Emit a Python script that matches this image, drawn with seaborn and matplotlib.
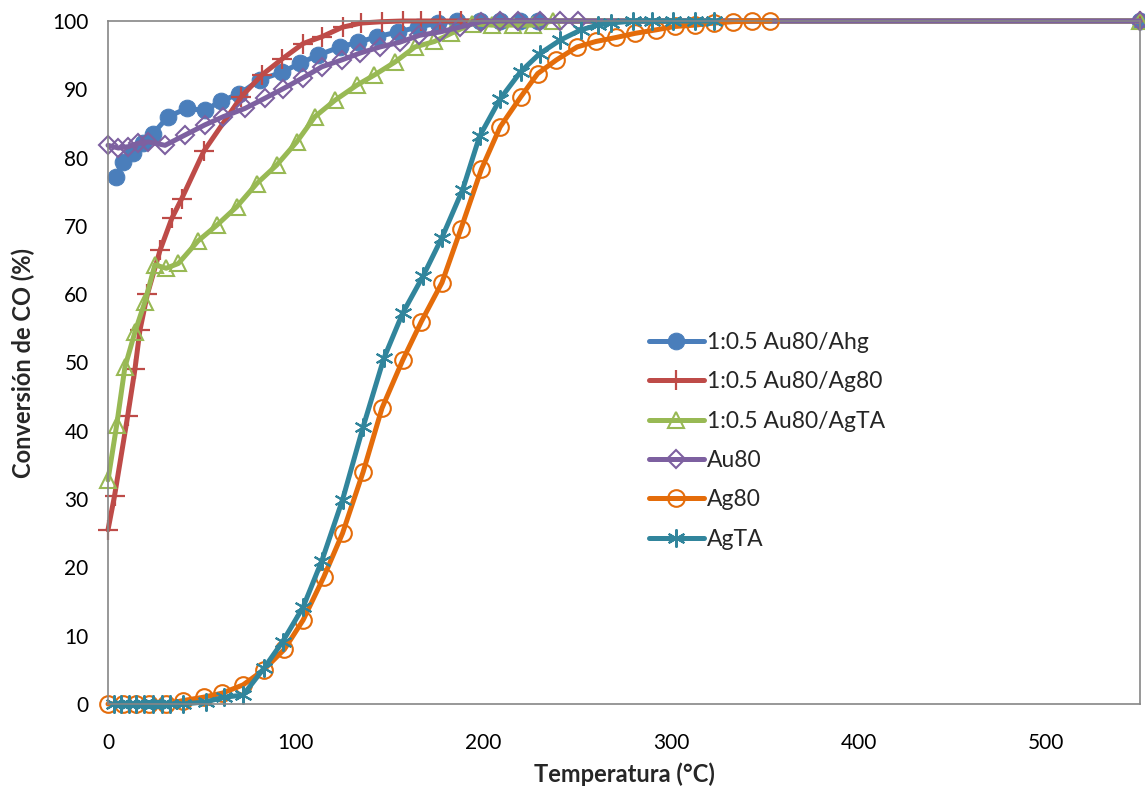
import matplotlib
matplotlib.use("Agg")
import matplotlib.pyplot as plt
import seaborn as sns
import pandas as pd

# ---- data ----
labels = ["1:0.5 Au80/Ahg", "1:0.5 Au80/Ag80", "1:0.5 Au80/AgTA", "Au80", "Ag80", "AgTA"]

ahg_x = [4.3, 8, 13.3, 18.7, 24, 32, 42, 51.7, 60.2, 69.8, 81, 92.7, 102.3, 111.9, 123.7, 133.3,
         143.4, 154.6, 165.2, 175.9, 186, 198.3, 209, 219.6, 229.2, 550]
ahg_y = [77.2, 79.3, 80.7, 82.1, 83.5, 86.0, 87.2, 86.9, 88.3, 89.3, 91.4, 92.5, 93.8, 95.0, 96.2, 96.9,
         97.7, 98.4, 99.1, 99.7, 100, 100, 100, 100, 100, 100]

auag80_x = [0, 3.5, 10.5, 14.4, 17, 21, 27.7, 34, 39.3, 51, 71, 82, 92.6, 104, 114, 125, 135, 146,
            157, 167, 177, 188, 550]
auag80_y = [25.5, 30.5, 42.2, 49.1, 54.7, 60, 66.4, 71.1, 74, 80.9, 88.9, 92.1, 94.4, 96.7, 97.7, 99.1,
            99.7, 99.9, 100, 100, 100, 100, 100]

auagta_x = [0, 4.6, 9, 14.4, 19.7, 25, 31, 37.5, 48, 58, 68.6, 79.3, 89.9, 100.6, 110.3, 121, 132.6,
            142, 153, 163.6, 174, 183, 194, 204.5, 216, 226.7, 237, 550]
auagta_y = [32.8, 40.8, 49.3, 54.5, 58.9, 64.3, 63.8, 64.5, 67.8, 70.1, 72.8, 76.2, 78.9, 82.3, 86, 88.4,
            90.6, 92.1, 94, 96.2, 97, 98.2, 99.6, 99.4, 99.4, 99.4, 100, 100]

au80_x = [0, 5.5, 10.8, 16.2, 21.5, 30.4, 41, 51.7, 61.5, 73, 83.7, 93.4, 104, 114, 124.6, 134.3, 145,
          155.6, 166, 177, 187.6, 199, 209, 218.5, 230, 241, 250.5, 550]
au80_y = [81.8, 81.4, 81.6, 82.1, 82.3, 81.8, 83.3, 84.8, 86, 87.2, 88.7, 90.1, 91.7, 93.3, 94.3, 95.3,
          96.2, 96.9, 97.9, 98.4, 99.1, 99.9, 100, 100, 100, 100, 100, 100]

ag80_x = [0, 8, 15, 22, 31, 40, 51, 61, 72, 83, 94, 104, 115, 125, 136, 146, 157, 167, 178, 188, 199,
          209, 220, 229, 239, 250, 260, 271, 281, 292, 302, 313, 323, 333, 343, 353]
ag80_y = [0, 0, 0, 0, 0, 0.5, 1, 1.6, 2.8, 5, 8, 12.3, 18.6, 25, 34, 43.3, 50.3, 56, 61.7, 69.5, 78.3,
          84.5, 88.9, 92.3, 94.3, 96.2, 97, 97.6, 98.2, 98.7, 99.2, 99.4, 99.7, 99.9, 100, 100]

agta_x = [3, 7, 11, 15, 19, 24, 29, 33, 40, 52, 62, 72, 83, 93, 104, 114, 125, 136, 147, 157, 168,
          178, 189, 198, 209, 220, 230, 241, 252, 261, 268, 280, 290, 301, 313, 323]
agta_y = [0, 0, 0, 0, 0, 0, 0, 0, 0, 0.3, 1, 1.3, 5.2, 9.1, 14.2, 21, 29.9, 40.6, 50.6, 57.2, 62.7,
          68.3, 75.3, 83.1, 88.6, 92.6, 95.2, 97.2, 98.7, 99.4, 99.7, 100, 100, 100, 100, 100]

x_ticks = [0, 100, 200, 300, 400, 500]
y_ticks = [0, 10, 20, 30, 40, 50, 60, 70, 80, 90, 100]

# ---- style ----
sns.set_theme(style="white")
plt.rcParams['font.family'] = ['Lato', 'DejaVu Sans']

C_BLUE, C_RED, C_GREEN, C_PURPLE, C_ORANGE, C_TEAL = "#4A7EBB", "#BE4B48", "#98B954", "#7D60A0", "#E46C0A", "#31859C"

series = [
    (ahg_x, ahg_y, C_BLUE, dict(marker="o", markersize=12, markerfacecolor=C_BLUE, markeredgecolor=C_BLUE)),
    (auag80_x, auag80_y, C_RED, dict(marker="+", markersize=15, markeredgewidth=1.6, markeredgecolor=C_RED)),
    (auagta_x, auagta_y, C_GREEN, dict(marker="^", markersize=12, markerfacecolor="none", markeredgewidth=1.5, markeredgecolor=C_GREEN)),
    (au80_x, au80_y, C_PURPLE, dict(marker="D", markersize=9.5, markerfacecolor="none", markeredgewidth=1.5, markeredgecolor=C_PURPLE)),
    (ag80_x, ag80_y, C_ORANGE, dict(marker="o", markersize=12, markerfacecolor="none", markeredgewidth=1.5, markeredgecolor=C_ORANGE)),
    (agta_x, agta_y, C_TEAL, dict(marker=(6, 2, 0), markersize=13, markeredgewidth=1.5, markeredgecolor=C_TEAL)),
]

fig = plt.figure(figsize=(11.45, 7.91), dpi=100)
ax = fig.add_axes([108 / 1145, 1 - 704 / 791, (1140 - 108) / 1145, (704 - 21) / 791])

for (xs, ys, col, mk), lab in zip(series, labels):
    df = pd.DataFrame({"x": xs, "y": ys})
    sns.lineplot(data=df, x="x", y="y", ax=ax, color=col, linewidth=3.6, sort=False,
                 label=lab, clip_on=False, **mk)

ax.set_xlim(0, 550)
ax.set_ylim(0, 100)
ax.set_xticks(x_ticks)
ax.set_yticks(y_ticks)
ax.tick_params(axis="both", direction="out", length=5, width=1, color="#868686",
               labelsize=15, labelcolor="black")
ax.tick_params(axis="x", pad=16)
ax.tick_params(axis="y", pad=9)
for s in ax.spines.values():
    s.set_color("#868686")
    s.set_linewidth(1.2)
ax.grid(False)

ax.set_xlabel("Temperatura (°C)", fontsize=17, fontweight="bold", labelpad=7)
ax.set_ylabel("Conversión de CO (%)", fontsize=17, fontweight="bold", labelpad=12)

leg = ax.legend(loc="upper left", bbox_to_anchor=(0.504, 0.575), frameon=False, fontsize=16.5,
                handlelength=2.4, handletextpad=0.12, labelspacing=0.8)

fig.savefig("out.png", dpi=100)
